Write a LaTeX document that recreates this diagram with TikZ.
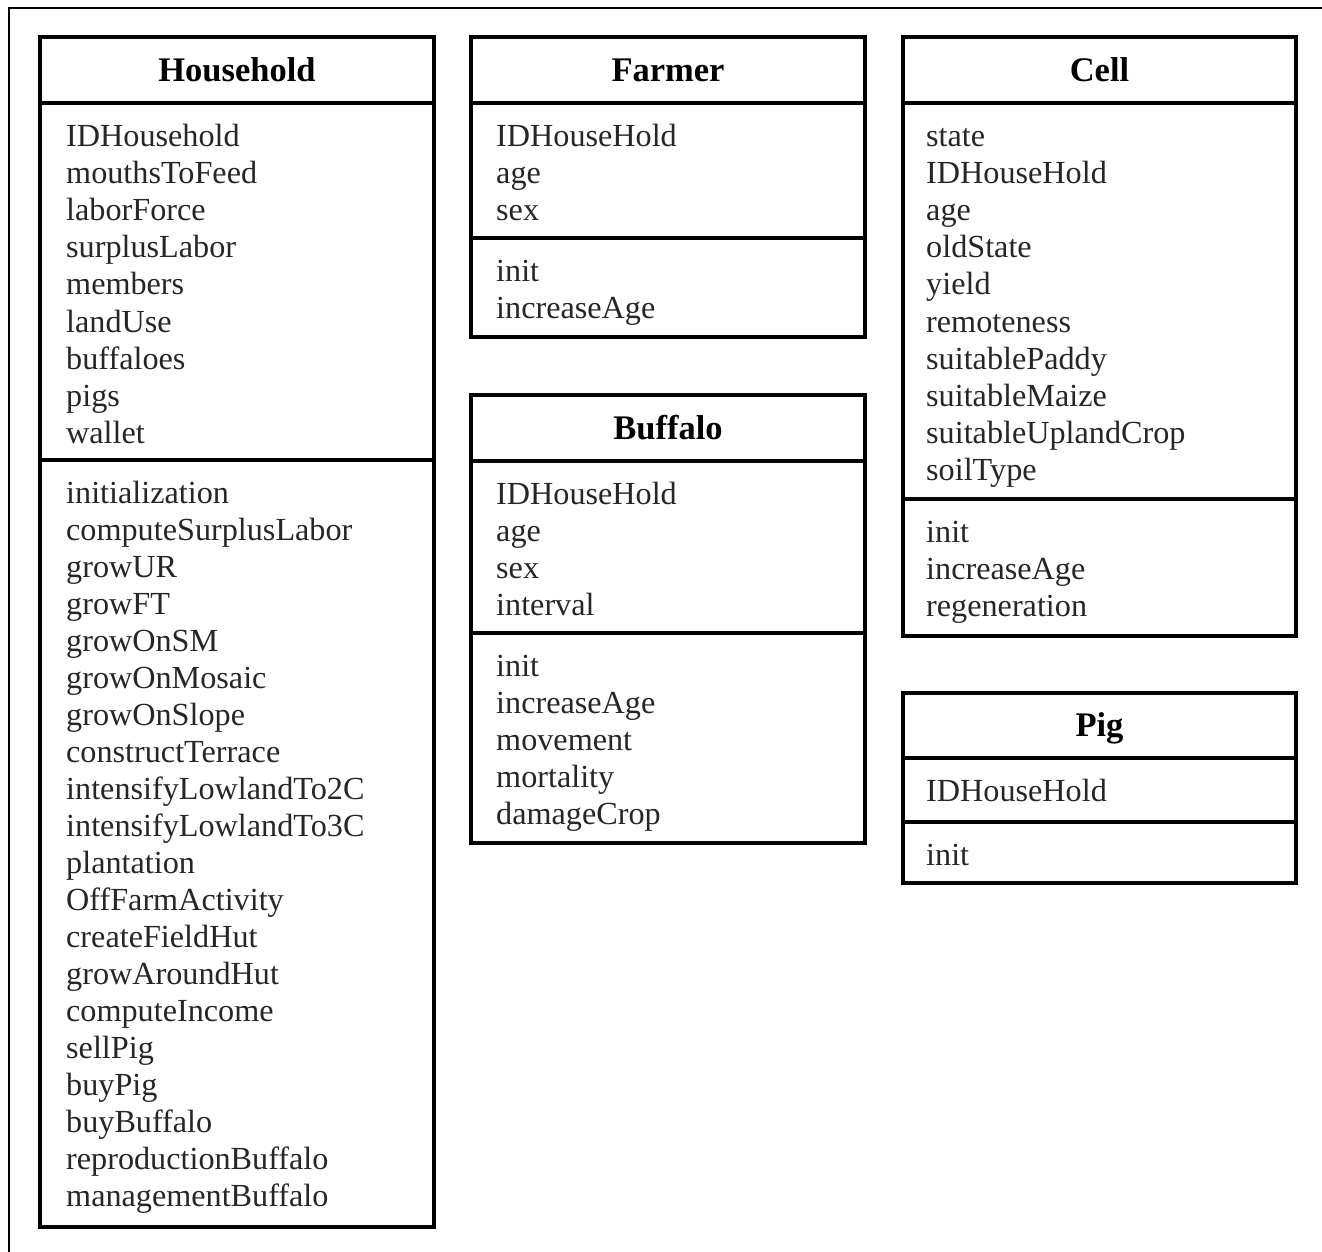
\documentclass[tikz,border=0pt]{standalone}
\usepackage{fontspec}
\setmainfont{Liberation Serif}
\tikzset{
  classline/.style={line width=3.2pt},
  classtitle/.style={anchor=base, inner sep=0pt, font=\fontsize{34.5}{40}\selectfont\bfseries},
  member/.style={anchor=base west, inner sep=0pt, text=black!85, font=\fontsize{32.2}{37}\selectfont},
}

\begin{document}
\begin{tikzpicture}[x=1pt,y=-1pt]
  \useasboundingbox (0,0) rectangle (1322,1251);
  \clip (0,0) rectangle (1322,1251);
  \draw[line width=2.8pt] (9,8) rectangle (1345,1275);
  % Household
  \draw[classline] (40,37) rectangle (434,1227) (40,103) -- (434,103) (40,460) -- (434,460);
  \node[classtitle] (household) at (237,81.5) {Household};
  \foreach \m [count=\i] in {IDHousehold,mouthsToFeed,laborForce,surplusLabor,members,landUse,buffaloes,pigs,wallet}
    \node[member] (household-a\i) at (66,{146+37.2*(\i-1)}) {\m};
  \foreach \m [count=\i] in {initialization,computeSurplusLabor,growUR,growFT,growOnSM,growOnMosaic,growOnSlope,constructTerrace,intensifyLowlandTo2C,intensifyLowlandTo3C,plantation,OffFarmActivity,createFieldHut,growAroundHut,computeIncome,sellPig,buyPig,buyBuffalo,reproductionBuffalo,managementBuffalo}
    \node[member] (household-m\i) at (66,{503+37.05*(\i-1)}) {\m};
  % Farmer
  \draw[classline] (471,37) rectangle (865,337) (471,103) -- (865,103) (471,238) -- (865,238);
  \node[classtitle] (farmer) at (668,81.5) {Farmer};
  \foreach \m [count=\i] in {IDHouseHold,age,sex}
    \node[member] (farmer-a\i) at (496,{146+37.2*(\i-1)}) {\m};
  \foreach \m [count=\i] in {init,increaseAge}
    \node[member] (farmer-m\i) at (496,{281+37.2*(\i-1)}) {\m};
  % Buffalo
  \draw[classline] (471,395) rectangle (865,843) (471,461) -- (865,461) (471,633) -- (865,633);
  \node[classtitle] (buffalo) at (668,439.5) {Buffalo};
  \foreach \m [count=\i] in {IDHouseHold,age,sex,interval}
    \node[member] (buffalo-a\i) at (496,{504+37.2*(\i-1)}) {\m};
  \foreach \m [count=\i] in {init,increaseAge,movement,mortality,damageCrop}
    \node[member] (buffalo-m\i) at (496,{676+37.2*(\i-1)}) {\m};
  % Cell
  \draw[classline] (903,37) rectangle (1296,636) (903,103) -- (1296,103) (903,499) -- (1296,499);
  \node[classtitle] (cell) at (1099.5,81.5) {Cell};
  \foreach \m [count=\i] in {state,IDHouseHold,age,oldState,yield,remoteness,suitablePaddy,suitableMaize,suitableUplandCrop,soilType}
    \node[member] (cell-a\i) at (926,{146+37.2*(\i-1)}) {\m};
  \foreach \m [count=\i] in {init,increaseAge,regeneration}
    \node[member] (cell-m\i) at (926,{542+37.2*(\i-1)}) {\m};
  % Pig
  \draw[classline] (903,693) rectangle (1296,883) (903,758) -- (1296,758) (903,822) -- (1296,822);
  \node[classtitle] (pig) at (1099.5,736.5) {Pig};
  \node[member] (pig-a1) at (926,801) {IDHouseHold};
  \node[member] (pig-m1) at (926,865) {init};
\end{tikzpicture}
\end{document}
